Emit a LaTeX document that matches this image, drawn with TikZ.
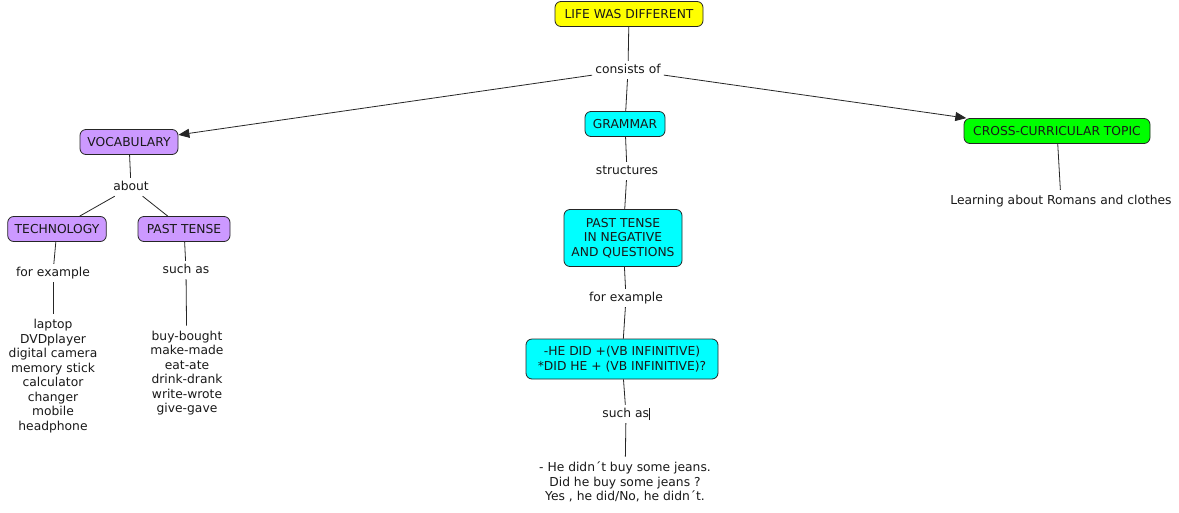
\documentclass[tikz,border=0pt]{standalone}
\usepackage{fontspec}
\setmainfont{DejaVu Sans}
\usetikzlibrary{arrows.meta}
\definecolor{cyel}{RGB}{255,255,0}
\definecolor{ccyan}{RGB}{0,255,255}
\definecolor{cpurp}{RGB}{204,153,255}
\definecolor{cgreen}{RGB}{0,255,0}
\begin{document}
\begin{tikzpicture}[x=1pt,y=-1pt,
  every node/.style={font=\fontsize{12.3}{14.5}\selectfont, text=black!90},
  concept/.style={draw=black!85, line width=0.8pt, rounded corners=6pt, inner xsep=7pt, inner ysep=3pt, minimum height=25pt, align=center},
  lbl/.style={fill=white, inner sep=3pt, text height=9.5pt, text depth=2.5pt},
  txt/.style={inner sep=5pt, align=center},
  conn/.style={draw=black!85, line width=0.8pt},
  arr/.style={conn, -{Triangle[length=11pt,width=9pt]}}]
\useasboundingbox[fill=white] (0,0) rectangle (1179,512);

\node[concept, fill=cyel, minimum width=148pt] (life) at (629,14) {LIFE WAS DIFFERENT};
\node[lbl] (cons) at (628,70) {consists of};
\node[concept, fill=ccyan, minimum width=80pt] (gram) at (625,124) {GRAMMAR};
\node[concept, fill=cpurp, minimum width=98pt] (voc) at (129,142) {VOCABULARY};
\node[concept, fill=cgreen, minimum width=186pt] (cross) at (1057,131) {CROSS-CURRICULAR TOPIC};

\node[lbl] (about) at (131,187) {about};
\node[concept, fill=cpurp, minimum width=98pt] (tech) at (57,229) {TECHNOLOGY};
\node[concept, fill=cpurp, minimum width=92pt] (past) at (184,229) {PAST TENSE};
\node[lbl] (fex1) at (53,273) {for example};
\node[lbl] (such1) at (186,270) {such as};
\node[txt] (list1) at (53,376) {laptop\\DVDplayer\\digital camera\\memory stick\\calculator\\changer\\mobile\\headphone};
\node[txt] (list2) at (187,373) {buy-bought\\make-made\\eat-ate\\drink-drank\\write-wrote\\give-gave};

\node[lbl] (struct) at (627,171) {structures};
\node[concept, fill=ccyan, minimum width=118pt, minimum height=57pt] (neg) at (623,238) {PAST TENSE\\IN NEGATIVE\\AND QUESTIONS};
\node[lbl] (fex2) at (626,298) {for example};
\node[concept, fill=ccyan, minimum width=192pt, minimum height=40pt] (hedid) at (622,359) {-HE DID +(VB INFINITIVE)\\*DID HE + (VB INFINITIVE)?};
\node[lbl] (such2) at (626,414) {such as\rule[-2.5pt]{0.7pt}{12pt}};
\node[txt] (ex) at (625,482) {- He didn´t buy some jeans.\\Did he buy some jeans ?\\Yes , he did/No, he didn´t.};

\node[txt] (learn) at (1061,201) {Learning about Romans and clothes};

\draw[conn] (life) -- (cons);
\draw[conn] (cons) -- (gram);
\draw[arr] (cons) -- (voc);
\draw[arr] (cons) -- (cross);
\draw[conn] (voc) -- (about);
\draw[conn] (about) -- (tech);
\draw[conn] (about) -- (past);
\draw[conn] (tech) -- (fex1);
\draw[conn] (fex1) -- (list1);
\draw[conn] (past) -- (such1);
\draw[conn] (such1) -- (list2);
\draw[conn] (gram) -- (struct);
\draw[conn] (struct) -- (neg);
\draw[conn] (neg) -- (fex2);
\draw[conn] (fex2) -- (hedid);
\draw[conn] (hedid) -- (such2);
\draw[conn] (such2) -- (ex);
\draw[conn] (cross) -- (learn);
\end{tikzpicture}
\end{document}
